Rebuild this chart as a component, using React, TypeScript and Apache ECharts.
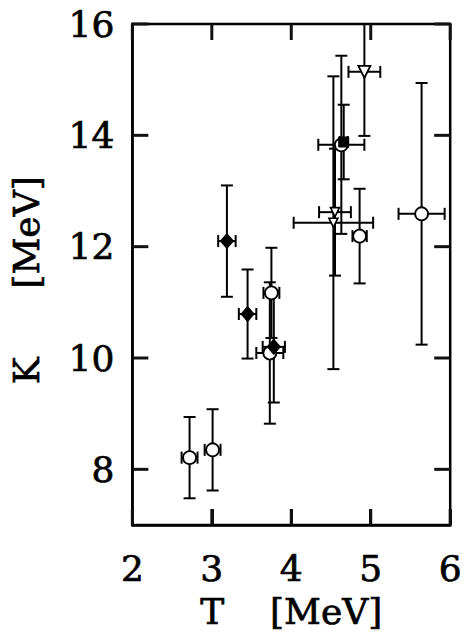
import React, { useEffect, useRef } from "react";
import * as echarts from "echarts";

// Data
const T = [2.72, 3.01, 3.19, 3.45, 3.75, 3.78, 3.73, 4.55, 4.53, 4.63, 4.66, 4.92, 4.86, 5.64];
const K = [8.21, 8.35, 12.1, 10.79, 11.17, 10.2, 10.09, 12.62, 12.43, 13.83, 13.88, 15.14, 12.19, 12.59];
const dT = [0.1, 0.1, 0.11, 0.11, 0.1, 0.14, 0.17, 0.2, 0.5, 0.29, 0.05, 0.2, 0.09, 0.29];
const dK = [0.73, 0.73, 1.0, 0.8, 0.81, 1.0, 1.27, 1.14, 2.63, 1.6, 0.67, 1.15, 0.85, 2.35];
const kind = [
  "openCircle", "openCircle", "diamond", "diamond", "openCircle", "diamond", "openCircle",
  "smallTri", "smallTri", "openCircle", "square", "tri", "openCircle", "openCircle",
];
const xTicks = [2, 3, 4, 5, 6];
const yTicks = [8, 10, 12, 14, 16];
const X_MIN = 2, X_MAX = 6, Y_MIN = 7, Y_MAX = 16;

const FONT = "DejaVu Serif";

export default function App() {
  const ref = useRef<HTMLDivElement>(null);
  useEffect(() => {
    document.body.style.margin = "0";
    const chart = echarts.init(ref.current!, undefined, { renderer: "svg" });

    const errData = T.map((t, i) => [t, K[i], t - dT[i], t + dT[i], K[i] - dK[i], K[i] + dK[i]]);
    const pick = (k: string) => T.map((t, i) => [t, K[i]]).filter((_, i) => kind[i] === k);

    const labelStyle = () => ({
      color: "#000", fontFamily: FONT, fontSize: 36,
      textBorderColor: "#000", textBorderWidth: 0.7,
    });
    const TL = 16;

    const option: any = {
      animation: false,
      backgroundColor: "#fff",
      grid: {
        left: 128, right: 5, top: 24, bottom: 110,
        show: true, borderColor: "#000", borderWidth: 2.5, backgroundColor: "transparent",
      },
      xAxis: {
        type: "value", min: X_MIN, max: X_MAX, interval: 1, position: "bottom",
        axisLine: { show: true, lineStyle: { color: "#000", width: 2.5 } },
        axisTick: { show: true, inside: true, length: TL, lineStyle: { color: "#111", width: 3 } },
        splitLine: { show: false },
        axisLabel: { ...labelStyle(), margin: 25 },
        name: "T    [MeV]", nameLocation: "middle", nameGap: 68,
        nameTextStyle: labelStyle(),
      },
      yAxis: {
        type: "value", min: Y_MIN, max: Y_MAX, interval: 1, position: "left",
        axisLine: { show: true, lineStyle: { color: "#000", width: 2.5 } },
        axisTick: { show: false }, splitLine: { show: false },
        axisLabel: {
          ...labelStyle(), margin: 18,
          formatter: (v: number) => (yTicks.indexOf(v) >= 0 ? String(v) : ""),
        },
        name: "K      [MeV] ", nameLocation: "middle", nameGap: 88, nameRotate: 90,
        nameTextStyle: labelStyle(),
      },
      series: [
        {
          // inward ticks on the left and right frame, at the labelled values
          type: "custom", clip: false, z: 10,
          data: yTicks.map((v) => [X_MIN, v]),
          renderItem: (params: any, api: any) => {
            const l = api.coord([X_MIN, api.value(1)]);
            const r = api.coord([X_MAX, api.value(1)]);
            return {
              type: "group",
              children: [
                { type: "line", shape: { x1: l[0], y1: l[1], x2: l[0] + TL, y2: l[1] }, style: { stroke: "#111", lineWidth: 3 } },
                { type: "line", shape: { x1: r[0], y1: r[1], x2: r[0] - TL, y2: r[1] }, style: { stroke: "#111", lineWidth: 3 } },
              ],
            };
          },
        },
        {
          // inward ticks on the bottom and top frame
          type: "custom", clip: false, z: 10,
          data: xTicks.map((v) => [v, Y_MIN]),
          renderItem: (params: any, api: any) => {
            const b = api.coord([api.value(0), Y_MIN]);
            const t = api.coord([api.value(0), Y_MAX]);
            return {
              type: "group",
              children: [
                { type: "line", shape: { x1: b[0], y1: b[1], x2: b[0], y2: b[1] - TL }, style: { stroke: "#111", lineWidth: 3 } },
                { type: "line", shape: { x1: t[0], y1: t[1], x2: t[0], y2: t[1] + TL }, style: { stroke: "#111", lineWidth: 3 } },
              ],
            };
          },
        },
        {
          // error bars with caps
          type: "custom",
          clip: false,
          z: 2,
          data: errData,
          renderItem: (params: any, api: any) => {
            const x = api.value(0), y = api.value(1);
            const x0 = api.value(2), x1 = api.value(3);
            const y0 = api.value(4);
            const yTop = api.value(5);
            const y1 = Math.min(yTop, Y_MAX);
            const pxL = api.coord([x0, y]);
            const pxR = api.coord([x1, y]);
            const pyB = api.coord([x, y0]);
            const pyT = api.coord([x, y1]);
            const c = 6;
            const st = () => ({ stroke: "#000", lineWidth: 2 });
            const children: any[] = [
              { type: "line", shape: { x1: pxL[0], y1: pxL[1], x2: pxR[0], y2: pxR[1] }, style: st() },
              { type: "line", shape: { x1: pxL[0], y1: pxL[1] - c, x2: pxL[0], y2: pxL[1] + c }, style: st() },
              { type: "line", shape: { x1: pxR[0], y1: pxR[1] - c, x2: pxR[0], y2: pxR[1] + c }, style: st() },
              { type: "line", shape: { x1: pyB[0], y1: pyB[1], x2: pyT[0], y2: pyT[1] }, style: st() },
              { type: "line", shape: { x1: pyB[0] - c, y1: pyB[1], x2: pyB[0] + c, y2: pyB[1] }, style: st() },
            ];
            if (yTop <= Y_MAX) {
              children.push({ type: "line", shape: { x1: pyT[0] - c, y1: pyT[1], x2: pyT[0] + c, y2: pyT[1] }, style: st() });
            }
            return { type: "group", children };
          },
        },
        {
          type: "scatter", z: 5, symbol: "circle", symbolSize: 13, data: pick("openCircle"),
          itemStyle: { color: "#fff", borderColor: "#000", borderWidth: 1.8, opacity: 1 },
        },
        {
          type: "scatter", z: 5, symbol: "diamond", symbolSize: [13, 15], data: pick("diamond"),
          itemStyle: { color: "#000", borderColor: "#000", borderWidth: 1, opacity: 1 },
        },
        {
          type: "scatter", z: 5, symbol: "rect", symbolSize: 10, data: pick("square"),
          itemStyle: { color: "#000", borderColor: "#000", borderWidth: 1, opacity: 1 },
        },
        {
          type: "scatter", z: 5, symbol: "triangle", symbolRotate: 180, symbolSize: 12, data: pick("tri"),
          itemStyle: { color: "#fff", borderColor: "#000", borderWidth: 1.8, opacity: 1 },
        },
        {
          type: "scatter", z: 5, symbol: "triangle", symbolRotate: 180, symbolSize: 9, data: pick("smallTri"),
          itemStyle: { color: "#fff", borderColor: "#000", borderWidth: 1.6, opacity: 1 },
        },
      ],
    };
    chart.setOption(option);
    return () => chart.dispose();
  }, []);
  return <div ref={ref} style={{ width: 465, height: 635 }} />;
}
